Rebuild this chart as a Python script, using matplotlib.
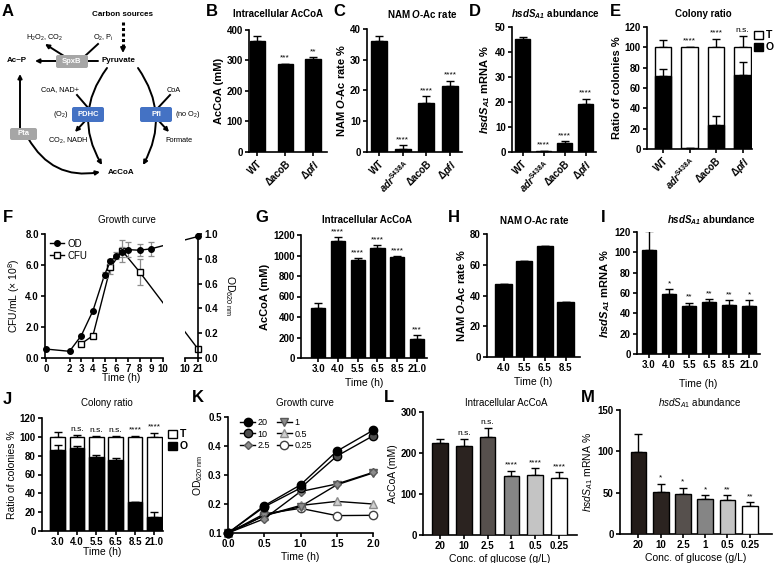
import numpy as np
import matplotlib.pyplot as plt
from matplotlib.patches import FancyBboxPatch, FancyArrowPatch, Patch
from matplotlib.lines import Line2D

plt.rcParams['font.family'] = ['Liberation Sans', 'DejaVu Sans']
plt.rcParams['mathtext.fontset'] = 'custom'
plt.rcParams['mathtext.rm'] = 'Liberation Sans'
plt.rcParams['mathtext.it'] = 'Liberation Sans:italic'
plt.rcParams['mathtext.bf'] = 'Liberation Sans:bold'
plt.rcParams['mathtext.bfit'] = 'Liberation Sans:italic:bold'
plt.rcParams['axes.linewidth'] = 1.2

# ---------------- data ----------------
strains3 = ['WT', 'ΔacoB', r'$\mathbf{Δ}\mathbfit{pfl}$']
strains4 = ['WT', r'$\mathbfit{adr}^{\mathbf{S438A}}$', 'ΔacoB', r'$\mathbf{Δ}\mathbfit{pfl}$']

b_acoa = [365, 288, 303.5]
b_err = [15, 2, 6.5]
b_sig = ['', '***', '**']

c_oac = [36.0, 1.1, 16.0, 21.6]
c_err = [1.6, 1.1, 2.2, 1.6]
c_sig = ['', '****', '****', '****']

d_hsds = [45.0, 0.3, 3.75, 19.0]
d_err = [1.0, 0.2, 0.5, 2.3]
d_sig = ['', '****', '****', '****']

e_opaque = [71.5, 0.5, 24.0, 73.0]
e_opaque_err = [7.5, 0.0, 8.8, 12.5]
e_total_err = [7.3, 0.6, 8.6, 11.0]
e_sig = ['', '****', '****', 'n.s.']

f_od_time = [0, 2, 3, 4, 5, 5.5, 6, 6.5, 7, 8, 9, 21]
f_od = [0.072, 0.054, 0.18, 0.38, 0.672, 0.78, 0.825, 0.855, 0.874, 0.869, 0.881, 0.98]
f_od_err = [0, 0, 0, 0, 0.025, 0.02, 0.03, 0.04, 0.06, 0.05, 0.055, 0]
f_cfu_time = [3, 4, 5.5, 6.5, 8, 21]
f_cfu = [0.92, 1.44, 5.85, 6.92, 5.55, 0.58]
f_cfu_err = [0, 0, 0.45, 0.7, 0.85, 0]

times6 = ['3.0', '4.0', '5.5', '6.5', '8.5', '21.0']
g_acoa = [489, 1141, 955, 1069, 981, 185]
g_err = [52, 42, 16, 33, 13, 39]
g_sig = ['', '****', '****', '****', '****', '***']

times4 = ['4.0', '5.5', '6.5', '8.5']
h_oac = [47.4, 62.5, 72.4, 35.9]

i_hsds = [102.7, 58.7, 47.6, 51.5, 48.3, 47.3]
i_err = [17.9, 4.9, 2.9, 2.3, 4.5, 5.8]
i_sig = ['', '*', '**', '**', '**', '*']

j_opaque = [85.8, 88.0, 79.0, 75.5, 30.6, 15.0]
j_opaque_err = [5.7, 2.0, 1.8, 2.5, 0.7, 5.3]
j_total_err = [5.0, 1.7, 0.7, 0.7, 0.7, 4.5]
j_sig = ['', 'n.s.', 'n.s.', 'n.s.', '****', '****']

k_time = [0, 0.5, 1.0, 1.5, 2.0]
k_glucose = ['20', '10', '2.5', '1', '0.5', '0.25']
k_od = [
    [0.1, 0.194, 0.266, 0.382, 0.454],
    [0.1, 0.19, 0.255, 0.365, 0.435],
    [0.1, 0.149, 0.243, 0.269, 0.309],
    [0.1, 0.16, 0.191, 0.266, 0.307],
    [0.1, 0.16, 0.195, 0.209, 0.2],
    [0.1, 0.166, 0.185, 0.16, 0.161],
]

glucose = ['20', '10', '2.5', '1', '0.5', '0.25']
l_acoa = [224, 218, 240, 144, 147, 140]
l_err = [10, 16, 21, 13, 16, 13]
l_sig = ['', 'n.s.', 'n.s.', '****', '****', '****']

m_hsds = [99.0, 50.7, 48.7, 42.2, 40.6, 34.2]
m_err = [21.6, 10.3, 7.3, 4.4, 6.4, 4.8]
m_sig = ['', '*', '*', '*', '**', '**']

gluc_colors = ['#231c19', '#2b2320', '#56504d', '#858585', '#c4c4c4', '#ffffff']

# ---------------- helpers ----------------
W, H = 775, 563
fig = plt.figure(figsize=(W / 100, H / 100), dpi=100)


def box(l, t, r, b):
    return fig.add_axes([l / W, 1 - b / H, (r - l) / W, (b - t) / H])


def ftext(x, y, s, **kw):
    fig.text(x / W, 1 - y / H, s, **kw)


def style(ax, size=7):
    ax.spines['top'].set_visible(False)
    ax.spines['right'].set_visible(False)
    ax.tick_params(length=3, width=1.2, labelsize=size, pad=1.5)
    plt.setp(ax.get_xticklabels() + ax.get_yticklabels(), fontweight='bold')


def bars(ax, vals, errs, colors='black', width=0.65, sig=None, pad=0.015):
    x = np.arange(len(vals))
    ax.bar(x, vals, width, color=colors, edgecolor='black', linewidth=1, zorder=3)
    ax.errorbar(x, vals, yerr=[np.zeros(len(vals)), errs], fmt='none', ecolor='black',
                elinewidth=1, capsize=3, capthick=1, zorder=2)
    if sig:
        lo, hi = ax.get_ylim()
        for xi, v, e, s in zip(x, vals, errs, sig):
            if s:
                ax.text(xi, v + e + pad * (hi - lo), s, ha='center', va='bottom', fontsize=6)


def stacked(ax, opaque, o_err, t_err, sig, width=0.65):
    x = np.arange(len(opaque))
    total = np.full(len(opaque), 100.0)
    ax.bar(x, total, width, color='white', edgecolor='black', linewidth=1, zorder=3)
    ax.bar(x, opaque, width, color='black', edgecolor='black', linewidth=1, zorder=4)
    ax.errorbar(x, total, yerr=[np.zeros(len(x)), t_err], fmt='none', ecolor='black',
                elinewidth=1, capsize=3, capthick=1, zorder=2)
    ax.errorbar(x, opaque, yerr=[np.zeros(len(x)), o_err], fmt='none', ecolor='black',
                elinewidth=1, capsize=3, capthick=1, zorder=5)
    for xi, e, s in zip(x, t_err, sig):
        if s:
            ax.text(xi, 100 + e + 2.5, s, ha='center', va='bottom', fontsize=6)


def tl_legend(x, y):
    h = [Patch(fc='white', ec='black', lw=1, label='T'), Patch(fc='black', ec='black', label='O')]
    fig.legend(handles=h, loc='upper left', bbox_to_anchor=(x / W, 1 - y / H), frameon=False,
               handlelength=0.8, handleheight=0.8, handletextpad=0.3, labelspacing=0.2,
               borderpad=0, prop={'size': 7.5, 'weight': 'bold'})


# ---------------- A: pathway diagram ----------------
ax = box(0, 0, 200, 190)
ax.set_xlim(0, 200)
ax.set_ylim(190, 0)
ax.axis('off')

arw = dict(arrowstyle='-|>', lw=1.4, color='black', mutation_scale=6, shrinkA=0, shrinkB=0)
ax.text(123, 15, 'Carbon sources', ha='center', va='center', fontsize=5.8, fontweight='bold')
ax.plot([123, 123], [22, 47], color='black', lw=2.2, ls=(0, (1, 0.8)))
ax.annotate('', xy=(123, 53), xytext=(123, 46), arrowprops=dict(arw, mutation_scale=7))
ax.text(118, 61, 'Pyruvate', ha='center', va='center', fontsize=5.8, fontweight='bold')
ax.text(17, 61, 'Ac~P', ha='center', va='center', fontsize=5.8, fontweight='bold')
ax.annotate('', xy=(35, 61), xytext=(98, 61), arrowprops=arw)
ax.annotate('', xy=(45, 44), xytext=(64, 56), arrowprops=arw)
ax.plot([98, 85], [44, 56], color='black', lw=1.4)
ax.text(45, 38, r'H$_2$O$_2$, CO$_2$', ha='center', va='center', fontsize=5.3)
ax.text(103, 38, r'O$_2$, P$_\mathrm{i}$', ha='center', va='center', fontsize=5.3)
ax.add_patch(FancyBboxPatch((56, 55), 32, 13, boxstyle='round,pad=0,rounding_size=2',
                            fc='#a6a6a6', ec='none', zorder=4))
ax.text(72, 61.5, 'SpxB', ha='center', va='center', fontsize=5.5, color='white',
        fontweight='bold', zorder=5)

ax.add_patch(FancyArrowPatch((107, 68), (102, 165), connectionstyle='arc3,rad=0.33', **arw))
ax.add_patch(FancyArrowPatch((138, 68), (143, 165), connectionstyle='arc3,rad=-0.31', **arw))
ax.plot([77, 90], [95, 110], color='black', lw=1.4)
ax.annotate('', xy=(75, 132), xytext=(86, 120), arrowprops=arw)
ax.plot([170, 156], [95, 110], color='black', lw=1.4)
ax.annotate('', xy=(169, 132), xytext=(158, 120), arrowprops=arw)
for x0, lab in [(72, 'PDHC'), (140, 'Pfl')]:
    ax.add_patch(FancyBboxPatch((x0, 107), 32, 15, boxstyle='round,pad=0,rounding_size=2',
                                fc='#4472c4', ec='none', zorder=4))
    ax.text(x0 + 16, 114.5, lab, ha='center', va='center', fontsize=5.5, color='white',
            fontweight='bold', zorder=5)
ax.text(60, 90, 'CoA, NAD+', ha='center', va='center', fontsize=5.3)
ax.text(61, 115, r'(O$_2$)', ha='center', va='center', fontsize=5.3)
ax.text(68, 141, r'CO$_2$, NADH', ha='center', va='center', fontsize=5.3)
ax.text(174, 90, 'CoA', ha='center', va='center', fontsize=5.3)
ax.text(188, 115, r'(no O$_2$)', ha='center', va='center', fontsize=5.3)
ax.text(179, 141, 'Formate', ha='center', va='center', fontsize=5.3)

ax.annotate('', xy=(20, 74), xytext=(20, 130), arrowprops=arw)
ax.add_patch(FancyArrowPatch((28, 138), (100, 172), connectionstyle='arc3,rad=0.35', **arw))
ax.add_patch(FancyBboxPatch((10, 128), 27, 12, boxstyle='round,pad=0,rounding_size=2',
                            fc='#a6a6a6', ec='none', zorder=4))
ax.text(23.5, 134, 'Pta', ha='center', va='center', fontsize=5.5, color='white',
        fontweight='bold', zorder=5)
ax.text(121, 173, 'AcCoA', ha='center', va='center', fontsize=5.8, fontweight='bold')

# ---------------- B ----------------
ax = box(249, 30, 327, 152)
ax.set_ylim(0, 400)
ax.set_xlim(-0.3, 2.5)
bars(ax, b_acoa, b_err, width=0.55, sig=b_sig)
ax.set_yticks([0, 100, 200, 300, 400])
ax.set_xticks(range(3), strains3, rotation=45, ha='right', rotation_mode='anchor')
ax.set_ylabel('AcCoA (mM)', fontsize=8, fontweight='bold', labelpad=2)
style(ax)

# ---------------- C ----------------
ax = box(367, 29, 462, 152)
ax.set_ylim(0, 40)
ax.set_xlim(-0.5, 3.5)
bars(ax, c_oac, c_err, width=0.68, sig=c_sig)
ax.set_yticks([0, 10, 20, 30, 40])
ax.set_xticks(range(4), strains4, rotation=45, ha='right', rotation_mode='anchor')
ax.set_ylabel(r'NAM $\mathbfit{O}$-Ac rate %', fontsize=8, fontweight='bold', labelpad=2)
style(ax)

# ---------------- D ----------------
ax = box(512, 27, 596, 152)
ax.set_ylim(0, 50)
ax.set_xlim(-0.5, 3.5)
bars(ax, d_hsds, d_err, width=0.68, sig=d_sig)
ax.set_yticks([0, 10, 20, 30, 40, 50])
ax.set_xticks(range(4), strains4, rotation=45, ha='right', rotation_mode='anchor')
ax.set_ylabel(r'$\mathbfit{hsdS}_{\mathbfit{A1}}$ mRNA %', fontsize=8, fontweight='bold', labelpad=2)
style(ax)

# ---------------- E ----------------
ax = box(647, 27, 752, 149)
ax.set_ylim(0, 120)
ax.set_xlim(-0.6, 3.35)
stacked(ax, e_opaque, e_opaque_err, e_total_err, e_sig, width=0.62)
ax.set_yticks(range(0, 121, 20))
ax.set_xticks(range(4), strains4, rotation=45, ha='right', rotation_mode='anchor')
ax.set_ylabel('Ratio of colonies %', fontsize=8, fontweight='bold', labelpad=2)
style(ax)
tl_legend(749, 25)

# ---------------- F: growth curve with broken x axis ----------------
af1 = box(45, 234, 163, 358)
af2 = box(185, 234, 198, 358)
af1r = af1.twinx()
af2r = af2.twinx()
af1.set_xlim(-0.1, 10)
af2.set_xlim(10, 21)
af1.set_ylim(0, 8)
af2.set_ylim(0, 8)
af1r.set_ylim(0, 1)
af2r.set_ylim(0, 1)


def shift(x, a_from, a_to):
    return a_to.transData.inverted().transform(a_from.transData.transform((x, 0)))[0]


for tt, yy, ee, axl, axr, kw in [
    (f_od_time, f_od, f_od_err, af1r, af2r, dict(marker='o', ms=4, mfc='black', mec='black')),
    (f_cfu_time, f_cfu, f_cfu_err, af1, af2, dict(marker='s', ms=5, mfc='white', mec='black', mew=1)),
]:
    tt = np.array(tt, dtype=float)
    yy = np.array(yy)
    ee = np.array(ee)
    left = tt <= 10
    t1 = [x if x <= 10 else shift(x, axr, axl) for x in tt]
    t2 = [x if x > 10 else shift(x, axl, axr) for x in tt]
    axl.plot(t1, yy, color='black', lw=1, zorder=2)
    axr.plot(t2, yy, color='black', lw=1, zorder=2)
    axl.errorbar(tt[left], yy[left], yerr=ee[left], fmt='none', ecolor='#8c8c8c',
                 elinewidth=0.9, capsize=2.5, capthick=0.9, zorder=3)
    axl.plot(tt[left], yy[left], ls='none', clip_on=False, zorder=4, **kw)
    axr.plot(tt[~left], yy[~left], ls='none', clip_on=False, zorder=4, **kw)

af1.set_xticks([0, 2, 3, 4, 5, 6, 7, 8, 9, 10])
af1.set_yticks([0, 2, 4, 6, 8], ['0.0', '2.0', '4.0', '6.0', '8.0'])
af1.set_ylabel(r'CFU/mL ($\times$ 10$^8$)', fontsize=7.5, labelpad=2)
style(af1)
af1r.axis('off')
af2.set_xticks([10, 21])
af2.set_yticks([])
style(af2)
af2.spines['left'].set_visible(False)
af2r.set_xticks([10, 21])
af2r.set_yticks([0, 0.2, 0.4, 0.6, 0.8, 1.0], ['0.0', '0.2', '0.4', '0.6', '0.8', '1.0'])
for s in ['top', 'left', 'bottom']:
    af2r.spines[s].set_visible(False)
af2r.tick_params(length=3, width=1.2, labelsize=7, pad=1.5)
plt.setp(af2r.get_yticklabels(), fontweight='bold')
af2r.set_ylabel(r'OD$_{620\ \mathrm{nm}}$', fontsize=7.5, rotation=270, va='bottom', labelpad=4)
af1.legend(handles=[Line2D([], [], color='black', lw=1, marker='o', ms=4, label='OD'),
                    Line2D([], [], color='black', lw=1, marker='s', ms=5, mfc='white', label='CFU')],
           loc='upper left', frameon=False, fontsize=7, handlelength=1.5, handletextpad=0.3,
           labelspacing=0.2, borderaxespad=0.1)
ftext(121, 378, 'Time (h)', ha='center', va='center', fontsize=7.5)

# ---------------- G ----------------
ax = box(301, 235, 427, 358)
ax.set_ylim(0, 1200)
ax.set_xlim(-0.86, 5.5)
bars(ax, g_acoa, g_err, width=0.72, sig=g_sig)
ax.set_yticks(range(0, 1201, 200))
ax.set_xticks(range(6), times6)
ax.set_ylabel('AcCoA (mM)', fontsize=8, fontweight='bold', labelpad=2)
ax.set_xlabel('Time (h)', fontsize=7.5, labelpad=3)
style(ax)

# ---------------- H ----------------
ax = box(487, 234, 580, 357)
ax.set_ylim(0, 80)
ax.set_xlim(-0.8, 3.7)
bars(ax, h_oac, [0, 0, 0, 0], width=0.78)
ax.set_yticks(range(0, 81, 20))
ax.set_xticks(range(4), times4)
ax.set_ylabel(r'NAM $\mathbfit{O}$-Ac rate %', fontsize=8, fontweight='bold', labelpad=2)
ax.set_xlabel('Time (h)', fontsize=7.5, labelpad=3)
style(ax)

# ---------------- I ----------------
ax = box(637, 232, 760, 354)
ax.set_ylim(0, 120)
ax.set_xlim(-0.6, 5.55)
bars(ax, i_hsds, i_err, width=0.66, sig=i_sig)
ax.set_yticks(range(0, 121, 20))
ax.set_xticks(range(6), times6)
ax.set_ylabel(r'$\mathbfit{hsdS}_{\mathbfit{A1}}$ mRNA %', fontsize=8, fontweight='bold', labelpad=2)
ax.set_xlabel('Time (h)', fontsize=7.5, labelpad=6)
style(ax)

# ---------------- J ----------------
ax = box(42, 418, 163, 531)
ax.set_ylim(0, 120)
ax.set_xlim(-0.8, 5.44)
stacked(ax, j_opaque, j_opaque_err, j_total_err, j_sig, width=0.76)
ax.set_yticks(range(0, 121, 20))
ax.set_xticks(range(6), times6)
ax.set_ylabel('Ratio of colonies %', fontsize=7.5, labelpad=2)
ax.set_xlabel('Time (h)', fontsize=7.5, labelpad=-0.5)
style(ax)
tl_legend(163, 424)

# ---------------- K ----------------
ax = box(228, 417, 373, 533)
k_style = [
    dict(marker='o', ms=6, mfc='black', mec='black'),
    dict(marker='o', ms=6, mfc='#4d4d4d', mec='black'),
    dict(marker='D', ms=4.5, mfc='#8c8c8c', mec='#595959'),
    dict(marker='v', ms=6, mfc='#8c8c8c', mec='#595959'),
    dict(marker='^', ms=6, mfc='#d0d0d0', mec='#8c8c8c'),
    dict(marker='o', ms=6, mfc='white', mec='#404040'),
]
handles = []
for i in range(len(k_od) - 1, -1, -1):
    ln, = ax.plot(k_time, k_od[i], color='black', lw=1, clip_on=False, zorder=3 + (6 - i),
                  label=k_glucose[i], **k_style[i])
    handles.insert(0, ln)
ax.set_xlim(0, 2.0)
ax.set_ylim(0.1, 0.5)
ax.set_xticks([0, 0.5, 1.0, 1.5, 2.0], ['0.0', '0.5', '1.0', '1.5', '2.0'])
ax.set_yticks([0.1, 0.2, 0.3, 0.4, 0.5], ['0.1', '0.2', '0.3', '0.4', '0.5'])
ax.set_ylabel(r'OD$_{620\ \mathrm{nm}}$', fontsize=7.5, labelpad=2)
ax.set_xlabel('Time (h)', fontsize=7.5, labelpad=2)
ax.legend(handles=handles, ncol=2, loc='upper left', frameon=False, fontsize=6.5,
          handlelength=1.6, columnspacing=0.8, handletextpad=0.3, labelspacing=0.25,
          borderaxespad=0, bbox_to_anchor=(0.06, 1.02))
style(ax)

# ---------------- L ----------------
ax = box(423, 412, 577, 535)
ax.set_ylim(0, 300)
ax.set_xlim(-0.71, 5.75)
bars(ax, l_acoa, l_err, colors=gluc_colors, width=0.66, sig=l_sig)
ax.set_yticks([0, 100, 200, 300])
ax.set_xticks(range(6), glucose)
ax.set_ylabel('AcCoA (mM)', fontsize=7.5, labelpad=2)
ax.set_xlabel('Conc. of glucose (g/L)', fontsize=7.5, labelpad=2)
style(ax)

# ---------------- M ----------------
ax = box(620, 410, 772, 534)
ax.set_ylim(0, 150)
ax.set_xlim(-0.83, 6.0)
bars(ax, m_hsds, m_err, colors=gluc_colors, width=0.7, sig=m_sig)
ax.set_yticks([0, 50, 100, 150])
ax.set_xticks(range(6), glucose)
ax.set_ylabel(r'$hsdS_{A1}$ mRNA %', fontsize=7.5, labelpad=2)
ax.set_xlabel('Conc. of glucose (g/L)', fontsize=7.5, labelpad=2)
style(ax)

# ---------------- titles and panel letters ----------------
bold_titles = [
    (278, 14, 'Intracellular AcCoA'),
    (422, 14, r'NAM $\mathbfit{O}$-Ac rate'),
    (555, 14, r'$\mathbfit{hsdS}_{\mathbfit{A1}}$ abundance'),
    (703, 14, 'Colony ratio'),
    (367, 220, 'Intracellular AcCoA'),
    (534, 220, r'NAM $\mathbfit{O}$-Ac rate'),
    (711, 220, r'$\mathbfit{hsdS}_{\mathbfit{A1}}$ abundance'),
]
for x, y, s in bold_titles:
    ftext(x, y, s, ha='center', va='center', fontsize=7, fontweight='bold')
plain_titles = [
    (127, 220, 'Growth curve'),
    (107, 403, 'Colony ratio'),
    (305, 403, 'Growth curve'),
    (506, 403, 'Intracellular AcCoA'),
    (700, 403, r'$hsdS_{A1}$ abundance'),
]
for x, y, s in plain_titles:
    ftext(x, y, s, ha='center', va='center', fontsize=7)

letters = [(2, 12, 'A'), (206, 12, 'B'), (333, 12, 'C'), (469, 12, 'D'), (610, 12, 'E'),
           (3, 217, 'F'), (255, 217, 'G'), (448, 217, 'H'), (601, 217, 'I'),
           (3, 400, 'J'), (192, 398, 'K'), (384, 398, 'L'), (581, 398, 'M')]
for x, y, s in letters:
    ftext(x, y, s, ha='left', va='center', fontsize=12, fontweight='bold')

fig.savefig('out.png', dpi=100)
